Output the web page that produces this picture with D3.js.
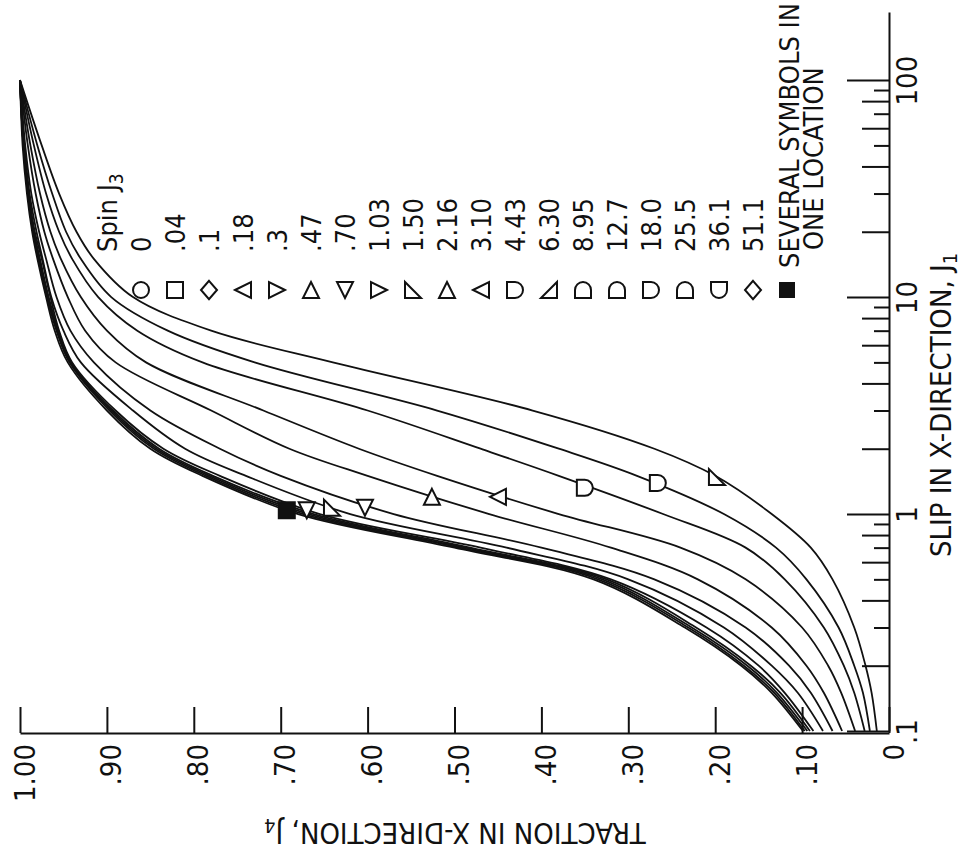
<!DOCTYPE html>
<html>
<head>
<meta charset="utf-8">
<title>Traction in x-direction vs slip</title>
<style>
  body { margin: 0; background: #fff; }
  text { font-family: "Liberation Sans Narrow", "DejaVu Sans Condensed", "Roboto Condensed", sans-serif; fill: #111; }
</style>
</head>
<body>
<script src="https://cdn.jsdelivr.net/npm/d3@7/dist/d3.min.js"></script>
<script>
// slip values where the curves were read
const slipGrid = [0.1, 0.15, 0.2, 0.3, 0.5, 0.7, 1, 1.5, 2, 3, 5, 7, 10, 15, 20, 30, 50, 100];

// traction (low spin -> high spin)
const curveA = [0.099, 0.135, 0.17, 0.235, 0.34, 0.50, 0.68, 0.79, 0.85, 0.90, 0.945, 0.96, 0.97, 0.98, 0.986, 0.992, 0.997, 1.0];
const curveB = [0.097, 0.132, 0.167, 0.231, 0.335, 0.494, 0.674, 0.786, 0.846, 0.897, 0.943, 0.958, 0.969, 0.979, 0.985, 0.991, 0.996, 1.0];
const curveC = [0.094, 0.129, 0.163, 0.227, 0.33, 0.488, 0.668, 0.782, 0.843, 0.895, 0.942, 0.957, 0.968, 0.978, 0.985, 0.991, 0.996, 1.0];
const curveD = [0.091, 0.125, 0.159, 0.222, 0.325, 0.482, 0.662, 0.778, 0.84, 0.893, 0.941, 0.956, 0.967, 0.977, 0.984, 0.99, 0.996, 1.0];
const curveE = [0.087, 0.12, 0.15, 0.21, 0.32, 0.47, 0.655, 0.77, 0.835, 0.89, 0.94, 0.955, 0.965, 0.975, 0.983, 0.99, 0.996, 1.0];
const curveF = [0.076, 0.105, 0.135, 0.19, 0.30, 0.44, 0.62, 0.74, 0.81, 0.87, 0.93, 0.95, 0.964, 0.974, 0.981, 0.989, 0.995, 1.0];
const curveG = [0.065, 0.09, 0.115, 0.165, 0.27, 0.40, 0.57, 0.70, 0.77, 0.85, 0.915, 0.942, 0.958, 0.97, 0.978, 0.987, 0.994, 1.0];
const curveH = [0.054, 0.075, 0.095, 0.135, 0.22, 0.32, 0.46, 0.60, 0.69, 0.78, 0.89, 0.925, 0.945, 0.962, 0.972, 0.982, 0.991, 1.0];
const curveI = [0.039, 0.055, 0.07, 0.10, 0.165, 0.24, 0.38, 0.52, 0.61, 0.72, 0.855, 0.90, 0.93, 0.953, 0.965, 0.977, 0.988, 1.0];
const curveJ = [0.028, 0.04, 0.052, 0.075, 0.12, 0.165, 0.26, 0.38, 0.47, 0.60, 0.79, 0.865, 0.91, 0.94, 0.955, 0.97, 0.984, 1.0];
const curveK = [0.022, 0.03, 0.04, 0.058, 0.095, 0.13, 0.19, 0.29, 0.38, 0.52, 0.73, 0.83, 0.895, 0.93, 0.947, 0.963, 0.98, 1.0];
const curveL = [0.014, 0.02, 0.027, 0.04, 0.065, 0.09, 0.135, 0.20, 0.27, 0.41, 0.64, 0.78, 0.87, 0.915, 0.935, 0.955, 0.975, 1.0];
const curves = [curveA, curveB, curveC, curveD, curveE, curveF, curveG, curveH, curveI, curveJ, curveK, curveL];

// test points plotted near slip 1
const pointSlip     = [1.04, 1.04, 1.07, 1.07, 1.2, 1.2, 1.32, 1.39, 1.48];
const pointTraction = [0.693, 0.67, 0.641, 0.603, 0.526, 0.45, 0.35, 0.266, 0.198];
const pointSymbol   = ["filled", "triD", "rtriL", "triD", "triU", "triL", "dR", "dR", "rtriL"];

// legend
const spinLabels = ["0", ".04", ".1", ".18", ".3", ".47", ".70", "1.03", "1.50", "2.16", "3.10",
                    "4.43", "6.30", "8.95", "12.7", "18.0", "25.5", "36.1", "51.1"];
const spinSymbols = ["circle", "square", "diamond", "triL", "triR", "triU", "triD", "triR", "rtriL", "triU", "triL",
                     "dR", "rtriR", "dU", "dU", "dR", "dU", "dD", "diamond"];

// axis ticks
const tractionTicks = [0, 0.1, 0.2, 0.3, 0.4, 0.5, 0.6, 0.7, 0.8, 0.9, 1.0];
const tractionLabels = ["0", ".10", ".20", ".30", ".40", ".50", ".60", ".70", ".80", ".90", "1.00"];
const slipMajor = [0.1, 1, 10, 100];
const slipLabels = [".1", "1", "10", "100"];

let width = 966, height = 852;
let svg = d3.select("body").append("svg")
  .attr("width", width)
  .attr("height", height);

// chart is drawn turned a quarter turn: traction runs right->left, slip runs bottom->top
let x = d3.scaleLinear().domain([0, 1]).range([889, 20]);
let y = d3.scaleLog().domain([0.1, 206]).range([731, 12]);
let axisY = 733, axisX = 889;

// bottom (traction) axis
let tractionAxis = d3.axisBottom(x)
  .tickValues(tractionTicks)
  .tickFormat((d, i) => tractionLabels[i])
  .tickSizeInner(-26)
  .tickSizeOuter(0);

let gb = svg.append("g")
  .attr("transform", `translate(0,${axisY})`)
  .call(tractionAxis);
gb.select(".domain").attr("stroke", "#111").attr("stroke-width", 2);
gb.selectAll(".tick line").attr("stroke", "#111").attr("stroke-width", 2);
gb.selectAll(".tick text")
  .attr("transform", "rotate(-90)")
  .attr("text-anchor", "end")
  .attr("x", -11)
  .attr("y", 14)
  .attr("dy", 0)
  .style("font-size", "29px");

// right (slip) axis, log ticks of three lengths
let slipTicks = [];
[0.1, 1, 10].forEach(dec => {
  for (let k = 1; k < 10; k++) slipTicks.push(dec * k);
});
slipTicks.push(100);

let slipAxis = d3.axisRight(y)
  .tickValues(slipTicks)
  .tickFormat(d => {
    let i = slipMajor.findIndex(m => Math.abs(m - d) < 1e-9);
    return i >= 0 ? slipLabels[i] : "";
  })
  .tickSizeInner(-42)
  .tickSizeOuter(0);

let gr = svg.append("g")
  .attr("transform", `translate(${axisX},0)`)
  .call(slipAxis);
gr.select(".domain").attr("stroke", "#111").attr("stroke-width", 2);
gr.selectAll(".tick line")
  .attr("stroke", "#111").attr("stroke-width", 2)
  .attr("x2", d => {
    let m = Math.round(d / Math.pow(10, Math.floor(Math.log10(d) + 1e-9)));
    if (m === 1) return -42;
    return m % 2 === 0 ? -27 : -15;
  });
gr.selectAll(".tick text")
  .attr("transform", "rotate(-90)")
  .attr("text-anchor", "middle")
  .attr("x", 0)
  .attr("y", 28)
  .attr("dy", 0)
  .style("font-size", "29px");

// axis titles
let tb = svg.append("text")
  .attr("x", 455).attr("y", 831)
  .attr("transform", "rotate(180,455,831)")
  .attr("text-anchor", "middle")
  .attr("dominant-baseline", "middle")
  .style("font-size", "29px")
  .text("TRACTION IN X-DIRECTION, J");
tb.append("tspan").attr("dy", "0.3em").style("font-size", "20px").text("4");

let tr = svg.append("text")
  .attr("transform", "translate(951,557) rotate(-90)")
  .attr("text-anchor", "start")
  .style("font-size", "29px")
  .text("SLIP IN X-DIRECTION, J");
tr.append("tspan").attr("dy", "0.3em").style("font-size", "20px").text("1");

// curves
let line = d3.line()
  .x(d => x(d[1]))
  .y(d => y(d[0]))
  .curve(d3.curveCatmullRom.alpha(0.5));

svg.selectAll(".curve")
  .data(curves)
  .join("path")
  .attr("class", "curve")
  .attr("d", c => line(slipGrid.map((s, i) => [s, c[i]])))
  .attr("fill", "none")
  .attr("stroke", "#111")
  .attr("stroke-width", 1.8);

// symbol shapes (r = half size)
function symbolPath(name, r) {
  switch (name) {
    case "circle": return d3.symbol(d3.symbolCircle, Math.PI * r * r)();
    case "square":
    case "filled": return `M${-r},${-r}H${r}V${r}H${-r}Z`;
    case "diamond": return `M0,${-r * 1.15}L${r},0L0,${r * 1.15}L${-r},0Z`;
    case "triL": return `M${-r},0L${r},${-r}L${r},${r}Z`;
    case "triR": return `M${r},0L${-r},${-r}L${-r},${r}Z`;
    case "triU": return `M0,${-r}L${r},${r}L${-r},${r}Z`;
    case "triD": return `M0,${r}L${r},${-r}L${-r},${-r}Z`;
    case "rtriL": return `M${-r},${-r}L${-r},${r}L${r},${r}Z`;
    case "rtriR": return `M${r},${-r}L${r},${r}L${-r},${r}Z`;
    case "dR": return `M${-r},${-r}H0A${r},${r} 0 0 1 0,${r}H${-r}Z`;
    case "dU": return `M${-r},${r}V0A${r},${r} 0 0 1 ${r},0V${r}Z`;
    case "dD": return `M${-r},${-r}H${r}V0A${r},${r} 0 0 1 ${-r},0Z`;
  }
}

svg.selectAll(".pt")
  .data(pointSlip.map((s, i) => ({ s: s, t: pointTraction[i], sym: pointSymbol[i] })))
  .join("path")
  .attr("class", "pt")
  .attr("transform", d => `translate(${x(d.t)},${y(d.s)})`)
  .attr("d", d => symbolPath(d.sym, 8))
  .attr("fill", d => d.sym === "filled" ? "#111" : "#fff")
  .attr("stroke", "#111")
  .attr("stroke-width", 2);

// legend
let lx = d3.scalePoint().domain(spinLabels).range([141, 753]);
let legendTextY = 252, legendSymY = 290;

let head = svg.append("text")
  .attr("transform", `translate(${141 - 34 + 10},${legendTextY}) rotate(-90)`)
  .style("font-size", "27px")
  .text("Spin  J");
head.append("tspan").attr("dy", "0.3em").style("font-size", "19px").text("3");

svg.selectAll(".lv")
  .data(spinLabels)
  .join("text")
  .attr("class", "lv")
  .attr("transform", d => `translate(${lx(d) + 10},${legendTextY}) rotate(-90)`)
  .style("font-size", "27px")
  .text(d => d);

svg.selectAll(".ls")
  .data(spinLabels)
  .join("path")
  .attr("class", "ls")
  .attr("transform", d => `translate(${lx(d)},${legendSymY})`)
  .attr("d", (d, i) => symbolPath(spinSymbols[i], 8))
  .attr("fill", "#fff")
  .attr("stroke", "#111")
  .attr("stroke-width", 2);

svg.append("path")
  .attr("transform", `translate(787,${legendSymY})`)
  .attr("d", symbolPath("filled", 8))
  .attr("fill", "#111");

svg.append("text")
  .attr("transform", `translate(799,268) rotate(-90)`)
  .style("font-size", "27px")
  .text("SEVERAL SYMBOLS IN");
svg.append("text")
  .attr("transform", `translate(823,250) rotate(-90)`)
  .style("font-size", "27px")
  .text("ONE LOCATION");
</script>
</body>
</html>
